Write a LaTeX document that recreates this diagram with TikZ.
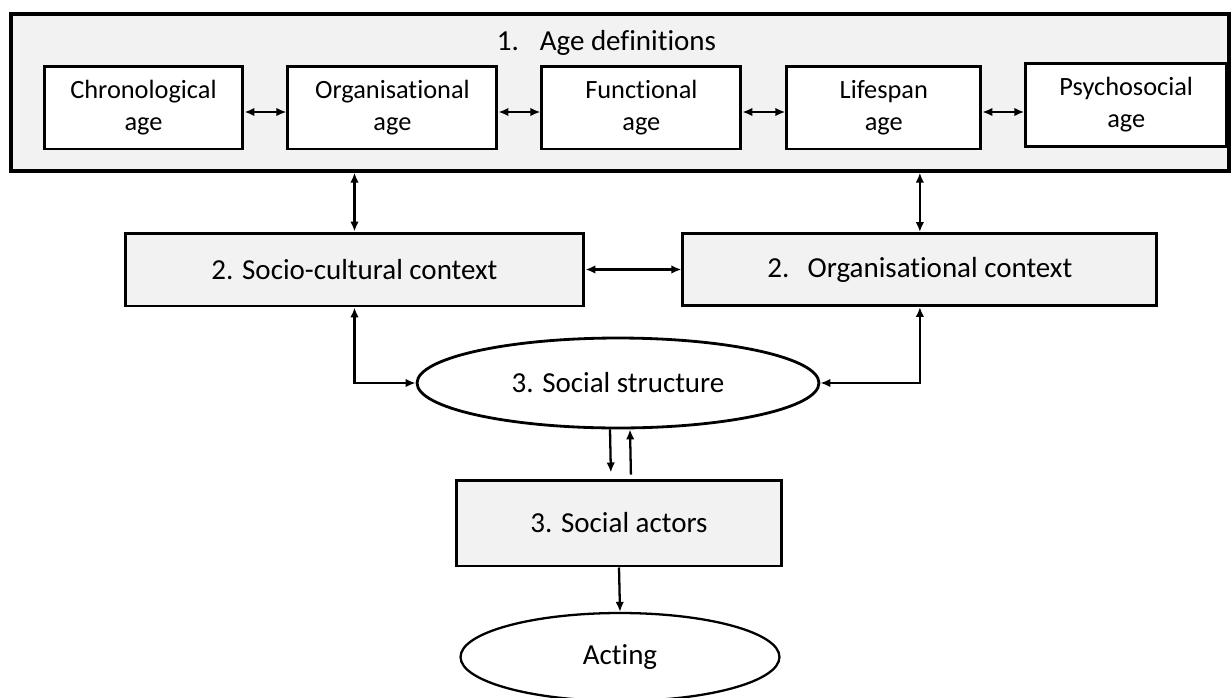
\documentclass[tikz,border=0pt]{standalone}
\usepackage{fontspec}
\setmainfont{Carlito}[Ligatures=NoCommon]
\usetikzlibrary{shapes}
\usetikzlibrary{positioning}
\usetikzlibrary{arrows.meta}
\definecolor{boxgray}{RGB}{242,242,242}
\tikzstyle{outer}=[rectangle,draw,fill=boxgray,line width=1.9pt,inner sep=0pt]
\tikzstyle{agebox}=[rectangle,draw,fill=white,line width=1.7pt,align=center,inner sep=0pt,minimum height=1.66cm,font=\fontsize{15}{18.2}\selectfont,node distance=0.84cm]
\tikzstyle{ctx}=[rectangle,draw,fill=boxgray,line width=1.7pt,inner sep=0pt,font=\fontsize{16.5}{20}\selectfont]
\tikzstyle{oval}=[ellipse,draw,fill=white,line width=1.3pt,inner sep=0pt,font=\fontsize{16.5}{20}\selectfont]

\begin{document}
\begin{tikzpicture}[x=0.02cm,y=-0.02cm,>={Latex[length=0.2cm,width=0.17cm]}]
	
	\tikzstyle{arrow}=[->,line width=1.3pt];
	\tikzstyle{both}=[<->,line width=1.3pt];
	
	\useasboundingbox (0,0) rectangle (1231,697);
	
	% 1. age definitions
	\node (defs) [outer,minimum width=24.36cm,minimum height=3.14cm] at (620,92.5) {};
	\node (title) [anchor=base,font=\fontsize{16.5}{20}\selectfont] at (606.5,50) {1.\hspace{0.72em}Age definitions};
	\node (chrono) [agebox,minimum width=3.98cm] at (143.5,107.5) {Chronological\\age};
	\node (orgage) [agebox,minimum width=4.18cm,right=of chrono] {Organisational\\age};
	\node (func) [agebox,minimum width=3.98cm,right=of orgage] {Functional\\age};
	\node (life) [agebox,minimum width=3.88cm,right=of func,xshift=0.02cm] {Lifespan\\age};
	\node (psycho) [agebox,minimum width=4.02cm,right=of life,yshift=0.05cm] {Psychosocial\\age};
	
	\foreach \a/\b in {chrono/orgage,orgage/func,func/life,life/psycho}
		\draw[both] ([yshift=-0.09cm]\a.east) -- ([yshift=-0.09cm]\a.east -| \b.west);
	
	% 2. contexts
	\node (socio) [ctx,minimum width=9.18cm,minimum height=1.46cm] at (354.5,269.5) {2. Socio-cultural context};
	\node (orgctx) [ctx,minimum width=9.48cm,minimum height=1.44cm,right=1.92cm of socio] {2.\hspace{0.63em}Organisational context};
	
	\draw[both] (socio.north |- defs.south) -- (socio.north);
	\draw[both] (orgctx.north |- defs.south) -- (orgctx.north);
	\draw[both] (socio.east) -- (orgctx.west);
	
	% 3. structure and actors
	\node (structure) [oval,minimum width=8.04cm,minimum height=1.8cm,line width=1.6pt] at (618,383) {3. Social structure};
	\node (actors) [ctx,minimum width=6.52cm,minimum height=1.72cm] at (619,523) {3. Social actors};
	\node (acting) [oval,minimum width=6.38cm,minimum height=1.76cm] at (620,657) {Acting};
	
	\draw[both] (socio.south) |- (structure.west);
	\draw[both] (orgctx.south) |- (structure.east);
	\draw[arrow,shorten >=0.12cm] ([xshift=-0.16cm]structure.south) -- ([xshift=-0.16cm]actors.north);
	\draw[arrow,shorten <=0.08cm] ([xshift=0.24cm]actors.north) -- ([xshift=0.24cm]structure.south);
	\draw[arrow] (actors.south) -- (acting.north);
\end{tikzpicture}
\end{document}
